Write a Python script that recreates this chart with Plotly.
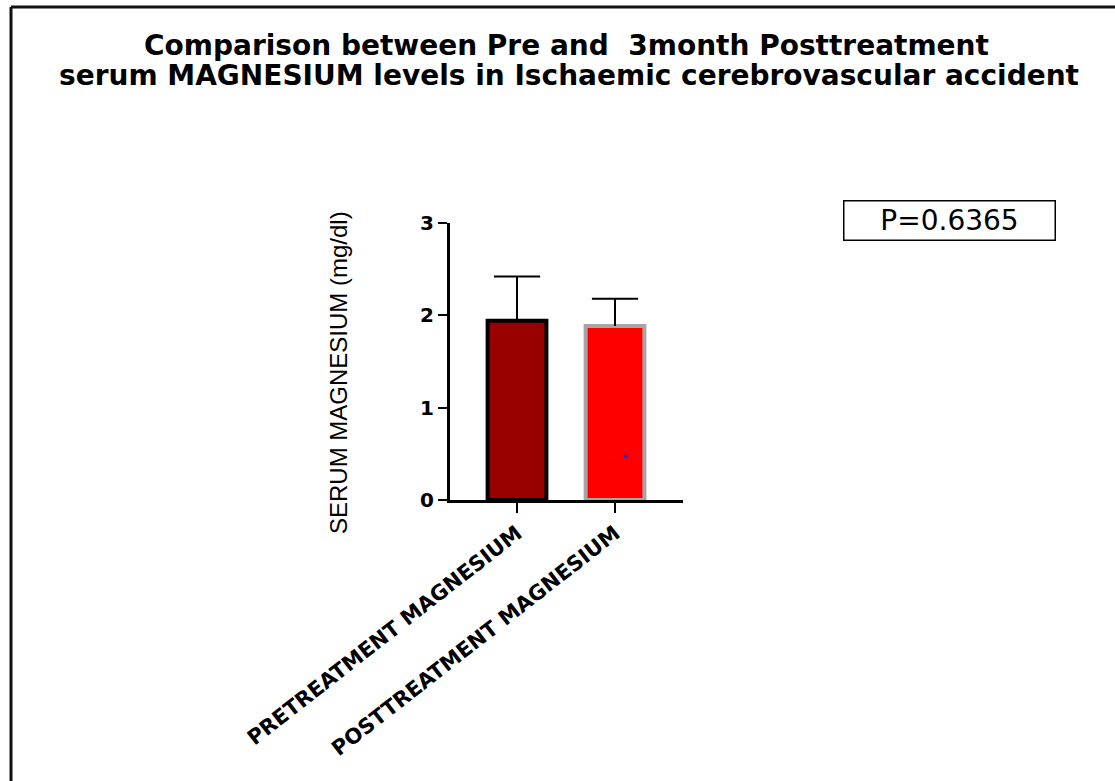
import plotly.graph_objects as go

categories = ["PRETREATMENT MAGNESIUM", "POSTTREATMENT MAGNESIUM"]
means = [1.94, 1.885]
sd_upper = [0.48, 0.295]
fill_colors = ["#990000", "#ff0000"]
line_colors = ["#000000", "#a6a6a6"]
stray_x = [1.11]
stray_y = [0.47]
y_ticks = [0, 1, 2, 3]
title_lines = ["Comparison between Pre and  3month Posttreatment",
               "serum MAGNESIUM levels in Ischaemic cerebrovascular accident"]
y_title = "SERUM MAGNESIUM (mg/dl)"
p_text = "P=0.6365"

W, H = 1115, 781
L, R, T, B = 450, 683, 223, 500  # plot area pixels

fig = go.Figure()
for i, c in enumerate(categories):
    fig.add_trace(go.Bar(
        x=[i], y=[means[i]], width=0.6,
        marker=dict(color=fill_colors[i], line=dict(color=line_colors[i], width=4)),
        error_y=dict(type="data", symmetric=False, array=[sd_upper[i]], arrayminus=[0],
                     color="black", thickness=2, width=0),
        showlegend=False,
    ))
# error-bar caps (top only)
fig.add_trace(go.Scatter(
    x=list(range(len(categories))), y=[m + s for m, s in zip(means, sd_upper)],
    mode="markers", showlegend=False,
    marker=dict(symbol="line-ew", size=33, color="black", line=dict(color="black", width=2)),
))
fig.add_trace(go.Scatter(x=stray_x, y=stray_y, mode="markers",
                         marker=dict(color="#2a2ad0", size=4), showlegend=False))

def px_x(p):
    return (p - L) / (R - L)

def px_y(p):
    return (B - p) / (B - T)

# outer frame
fig.add_shape(type="line", xref="paper", yref="paper", x0=px_x(11), x1=px_x(11), y0=px_y(7), y1=px_y(800),
              line=dict(color="#111111", width=3))
fig.add_shape(type="line", xref="paper", yref="paper", x0=px_x(11), x1=px_x(1130), y0=px_y(7), y1=px_y(7),
              line=dict(color="#111111", width=3))

# title (two lines placed separately)
for txt, cx, cy in zip(title_lines, [566, 569], [45, 75]):
    fig.add_annotation(xref="paper", yref="paper", x=px_x(cx), y=px_y(cy), showarrow=False,
                       xanchor="center", yanchor="middle", text=txt,
                       font=dict(family="DejaVu Sans", size=28, color="black", weight="bold"))

# y axis title
fig.add_annotation(xref="paper", yref="paper", x=px_x(338), y=px_y(373), showarrow=False,
                   xanchor="center", yanchor="middle", textangle=-90, text=y_title,
                   font=dict(family="Liberation Sans", size=24, color="black"))

# P value box
fig.add_annotation(xref="paper", yref="paper", x=px_x(949), y=px_y(220), showarrow=False,
                   xanchor="center", yanchor="middle",
                   text=p_text, bordercolor="black", borderwidth=1.5, borderpad=2,
                   width=206, height=34, font=dict(family="DejaVu Sans", size=28, color="black"))

fig.update_layout(
    width=W, height=H,
    margin=dict(l=L, r=W - R, t=T, b=H - B, autoexpand=False),
    paper_bgcolor="white", plot_bgcolor="white",
    xaxis=dict(range=[-0.684, 1.694], tickvals=[0, 1], ticktext=categories, tickangle=-38,
               showline=True, linecolor="black", linewidth=3, ticks="outside", ticklen=10,
               tickwidth=2, tickcolor="black", showgrid=False, zeroline=False,
               tickfont=dict(family="DejaVu Sans", size=21, color="black", weight="bold")),
    yaxis=dict(range=[0, 3], tickvals=y_ticks, showline=True, linecolor="black", linewidth=3,
               ticks="outside", ticklen=9, tickwidth=2, tickcolor="black", showgrid=False,
               zeroline=False,
               tickfont=dict(family="DejaVu Sans", size=20, color="black", weight="bold")),
)

fig.write_html("out.html")
